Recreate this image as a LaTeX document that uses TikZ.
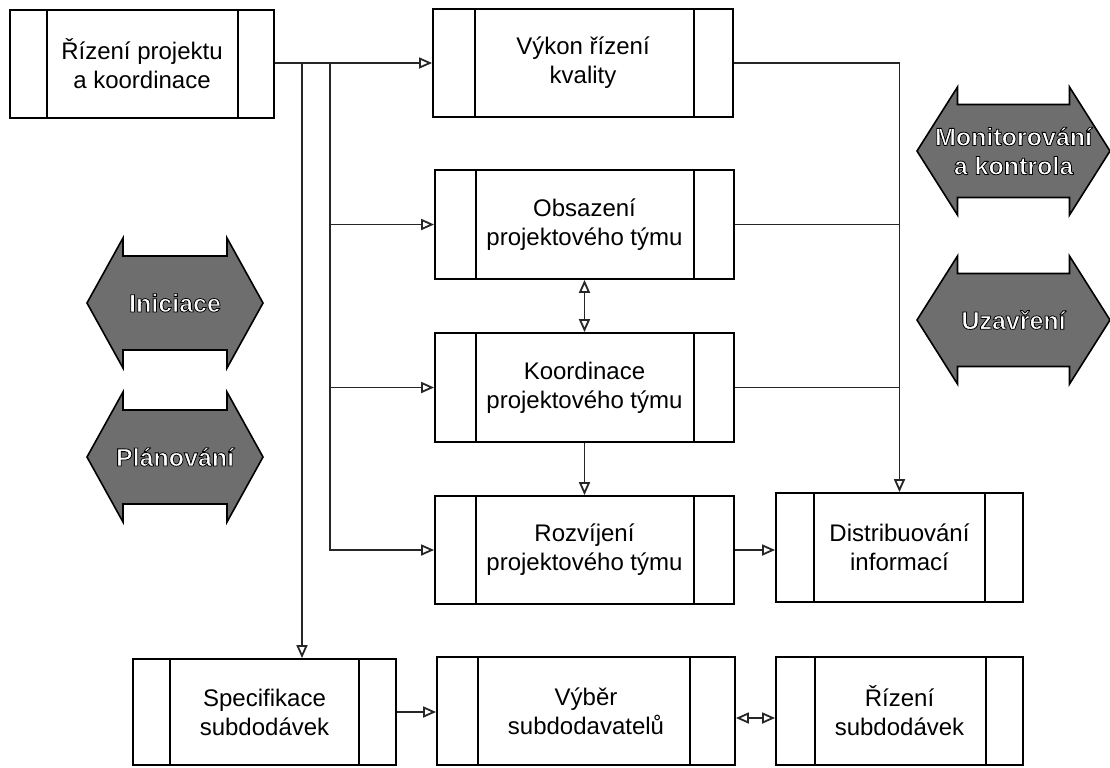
\documentclass[tikz,border=0pt]{standalone}
\usepackage{fontspec}
\setmainfont{Liberation Sans}
\usetikzlibrary{arrows.meta,calc}

% white lettering with a thin black outline (fill + stroke text rendering mode)
\newcommand{\halotxt}[1]{\textcolor{white}{\special{pdf:code 2 Tr 0 G 0.4 w}#1\special{pdf:code 0 Tr}}}

\tikzset{
  lpanel/.store in=\lpan, rpanel/.store in=\rpan,
  lpanel=20pt, rpanel=20pt,
  boxline/.style={line width=0.9pt, draw=black},
  procbox/.style={boxline, fill=white, align=center, inner sep=0pt,
    font=\fontsize{12}{14.5}\selectfont,
    path picture={
      \draw[boxline] ([xshift=\lpan]path picture bounding box.north west)
                  -- ([xshift=\lpan]path picture bounding box.south west);
      \draw[boxline] ([xshift=-\rpan]path picture bounding box.north east)
                  -- ([xshift=-\rpan]path picture bounding box.south east);
    }},
  tip/.tip={Triangle[open, length=6.5pt, width=5.5pt, line width=0.9pt]},
  conn/.style={line width=0.8pt, draw=black!85},
  arr/.style={conn, -tip},
  arrboth/.style={conn, tip-tip},
  phase/.style={fill=black!57, draw=black, line width=0.8pt, line join=miter},
  phasetext/.style={align=center, inner sep=0pt,
    font=\fontsize{12.5}{14.5}\selectfont\bfseries},
  pics/phasearrow/.style n args={4}{code={
    \filldraw[phase] (-#1,0) -- (-#2,-#3) -- (-#2,-#4) -- (#2,-#4) -- (#2,-#3)
      -- (#1,0) -- (#2,#3) -- (#2,#4) -- (-#2,#4) -- (-#2,#3) -- cycle;}}
}

\begin{document}
\begin{tikzpicture}[x=0.5pt, y=-0.5pt]
\useasboundingbox (0,0) rectangle (1110,767);

% process boxes
\node[procbox, minimum width=132pt, minimum height=54pt, lpanel=18.5pt, rpanel=18pt]
  (A) at (142,64) {Řízení projektu\\a koordinace};
\node[procbox, minimum width=150pt, minimum height=54pt, lpanel=21pt, rpanel=19.5pt]
  (B) at (583,63) {Výkon řízení\\kvality};
\node[procbox, minimum width=149.5pt, minimum height=54.5pt, lpanel=20.5pt]
  (C) at (584.5,224.5) {Obsazení\\projektového týmu};
\node[procbox, minimum width=149.5pt, minimum height=54.5pt, lpanel=20.5pt]
  (D) at (584.5,387.5) {Koordinace\\projektového týmu};
\node[procbox, minimum width=149.5pt, minimum height=54pt, lpanel=20.5pt]
  (E) at (584.5,550) {Rozvíjení\\projektového týmu};
\node[procbox, minimum width=123.5pt, minimum height=54.5pt, lpanel=19pt, rpanel=19pt]
  (F) at (899.5,547.5) {Distribuování\\informací};
\node[procbox, minimum width=131.5pt, minimum height=53pt, lpanel=18.5pt, rpanel=18.5pt]
  (G) at (264.5,712) {Specifikace\\subdodávek};
\node[procbox, minimum width=149pt, minimum height=54pt, lpanel=20.5pt, rpanel=22.5pt]
  (H) at (586,711) {Výběr\\subdodavatelů};
\node[procbox, minimum width=123.5pt, minimum height=54pt, lpanel=19.5pt, rpanel=18.5pt]
  (I) at (899.5,711) {Řízení\\subdodávek};

% branch points on the outgoing line of the first box
\coordinate (j1) at (302,63);
\coordinate (j2) at (330,63);

% connectors
\draw[arr] (A.east |- B.west) -- (B.west);
\draw[arr] (j1) -- (j1 |- G.north);
\draw[arr] (j2) |- (E.west);
\draw[arr] (j2 |- C.west) -- (C.west);
\draw[arr] (j2 |- D.west) -- (D.west);
\draw[arr] (B.east) -| (F.north);
\draw[conn] (C.east) -- (C.east -| F.north);
\draw[conn] (D.east) -- (D.east -| F.north);
\draw[arrboth] (C.south) -- (D.north);
\draw[arr] (D.south) -- (E.north);
\draw[arr] (E.east) -- (E.east -| F.west);
\draw[arr] (G.east) -- (G.east -| H.west);
\draw[arrboth] ([yshift=-3.5pt]H.east) -- ([yshift=-3.5pt]H.east -| I.west);

% process group arrows
\pic at (1013.5,151) {phasearrow={96.5}{56}{64}{46.5}};
\node[phasetext] (mon) at (1013.5,151) {\halotxt{Monitorování}\\\halotxt{a kontrola}};
\pic at (1013.5,320) {phasearrow={96.5}{56}{64}{46.5}};
\node[phasetext] (uza) at (1013.5,320) {\halotxt{Uzavření}};
\pic at (175,303) {phasearrow={88}{52}{65}{47}};
\node[phasetext] (ini) at (175,303) {\halotxt{Iniciace}};
\pic at (175,457) {phasearrow={88}{52}{65}{47}};
\node[phasetext] (pla) at (175,457) {\halotxt{Plánování}};
\end{tikzpicture}
\end{document}
